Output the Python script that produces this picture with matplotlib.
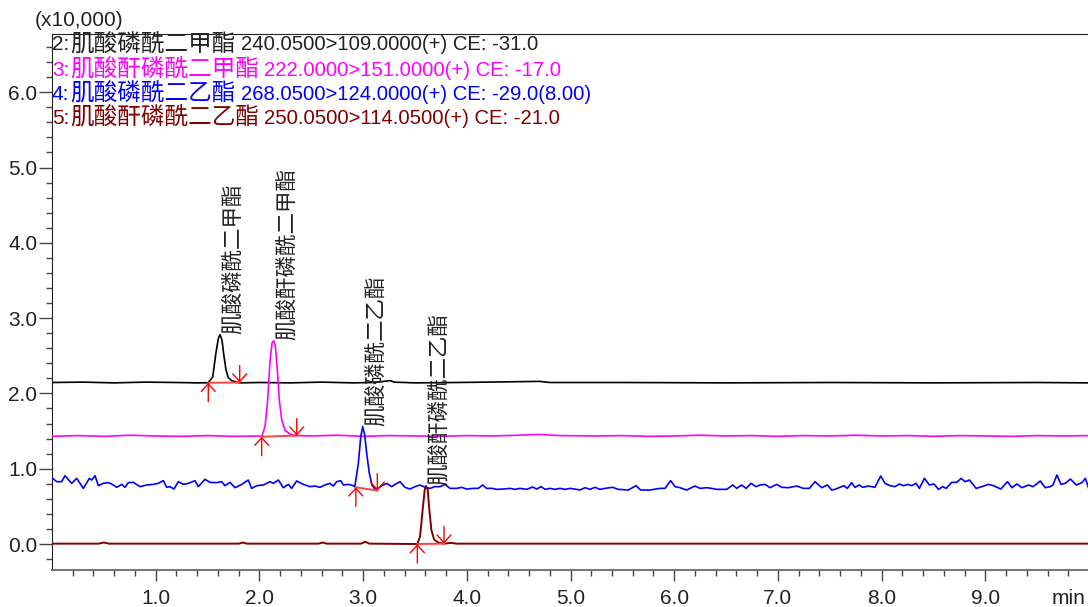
import matplotlib
matplotlib.use("Agg")
import numpy as np
import matplotlib.pyplot as plt
from matplotlib.ticker import FixedLocator, FormatStrFormatter

plt.rcParams['font.family'] = ['Liberation Sans', 'Noto Sans CJK SC']

# channel header lines
ch_ids = ["2:", "3:", "4:", "5:"]
ch_names = ["肌酸磷酰二甲酯", "肌酸酐磷酰二甲酯", "肌酸磷酰二乙酯", "肌酸酐磷酰二乙酯"]
ch_mrm = ["240.0500>109.0000(+) CE: -31.0",
          "222.0000>151.0000(+) CE: -17.0",
          "268.0500>124.0000(+) CE: -29.0(8.00)",
          "250.0500>114.0500(+) CE: -21.0"]
ch_colors = ["#000000", "#ff00ff", "#0000ff", "#800000"]
text_colors = ["#222222", "#ff00ff", "#0000ff", "#800000"]

# trace 2 (x10,000 counts vs min)
t2 = [0.0, 0.3, 0.6, 0.9, 1.2, 1.4, 1.507, 1.55, 1.58, 1.604, 1.62, 1.639, 1.659,
      1.678, 1.70, 1.733, 1.78, 1.81, 2.0, 2.3, 2.6, 2.9, 3.1, 3.2, 3.26, 3.3, 3.5,
      3.9, 4.2, 4.7, 4.8, 5.5, 6.5, 7.5, 8.5, 9.5, 10.0]
v2 = [2.145, 2.15, 2.14, 2.15, 2.145, 2.14, 2.142, 2.22, 2.53, 2.73, 2.78, 2.71, 2.49,
      2.31, 2.21, 2.17, 2.15, 2.14, 2.145, 2.14, 2.15, 2.14, 2.145, 2.16, 2.17, 2.15, 2.14,
      2.145, 2.15, 2.16, 2.145, 2.145, 2.14, 2.145, 2.14, 2.145, 2.14]

# trace 3
t3 = [0.0, 0.25, 0.5, 0.75, 1.0, 1.25, 1.5, 1.75, 2.0, 2.022, 2.054, 2.077, 2.103,
      2.122, 2.138, 2.153, 2.173, 2.192, 2.215, 2.247, 2.295, 2.36, 2.5, 2.75, 3.0,
      3.25, 3.5, 3.75, 4.0, 4.25, 4.5, 4.7, 4.9, 5.25, 5.5, 5.75, 6.0, 6.25, 6.5,
      6.75, 7.0, 7.25, 7.5, 7.75, 8.0, 8.25, 8.5, 8.75, 9.0, 9.25, 9.5, 9.75, 10.0]
v3 = [1.43, 1.44, 1.43, 1.445, 1.435, 1.43, 1.44, 1.43, 1.435, 1.425, 1.56, 1.87, 2.44,
      2.67, 2.70, 2.64, 2.31, 1.91, 1.65, 1.51, 1.46, 1.44, 1.435, 1.445, 1.43,
      1.44, 1.435, 1.43, 1.44, 1.435, 1.445, 1.455, 1.44, 1.435, 1.44, 1.43, 1.435, 1.445, 1.435,
      1.44, 1.43, 1.44, 1.435, 1.445, 1.435, 1.44, 1.43, 1.44, 1.435, 1.43, 1.44, 1.435, 1.44]

# trace 4 (noisy baseline)
t4 = [0.0, 0.045, 0.093, 0.125, 0.19, 0.238, 0.302, 0.36, 0.383, 0.415, 0.447, 0.495,
      0.543, 0.575, 0.624, 0.672, 0.704, 0.736, 0.784, 0.849, 0.913, 0.977, 1.025, 1.074,
      1.106, 1.138, 1.176, 1.218, 1.266, 1.315, 1.379, 1.411, 1.475, 1.524, 1.588, 1.636,
      1.668, 1.716, 1.765, 1.829, 1.893, 1.925, 1.974, 2.038, 2.102, 2.134, 2.183, 2.231,
      2.279, 2.311, 2.359, 2.424, 2.488, 2.536, 2.584, 2.632, 2.681, 2.713, 2.745, 2.784,
      2.81, 2.858, 2.906, 2.92, 2.954, 2.977, 2.996, 3.015, 3.035, 3.06, 3.086, 3.115,
      3.147, 3.18, 3.228, 3.276, 3.308, 3.356, 3.404, 3.452, 3.501, 3.549, 3.597, 3.645,
      3.693, 3.741, 3.79, 3.838, 3.902, 3.95, 3.998, 4.063, 4.111, 4.153, 4.191, 4.24,
      4.288, 4.352, 4.416, 4.465, 4.513, 4.577, 4.635, 4.674, 4.716, 4.754, 4.803, 4.851,
      4.899, 4.948, 4.996, 5.06, 5.09, 5.14, 5.188, 5.236, 5.284, 5.333, 5.406, 5.461,
      5.557, 5.632, 5.676, 5.766, 5.863, 5.911, 5.966, 6.008, 6.056, 6.12, 6.2, 6.249,
      6.313, 6.361, 6.41, 6.506, 6.564, 6.603, 6.651, 6.693, 6.741, 6.789, 6.828, 6.876,
      6.924, 6.989, 7.037, 7.101, 7.182, 7.246, 7.304, 7.358, 7.423, 7.477, 7.519, 7.55,
      7.598, 7.637, 7.669, 7.711, 7.743, 7.785, 7.817, 7.872, 7.936, 7.991, 8.033, 8.081,
      8.129, 8.171, 8.21, 8.258, 8.29, 8.332, 8.364, 8.413, 8.461, 8.506, 8.548, 8.59,
      8.622, 8.676, 8.725, 8.767, 8.805, 8.847, 8.912, 8.967, 9.031, 9.079, 9.15, 9.214,
      9.256, 9.305, 9.353, 9.417, 9.459, 9.491, 9.53, 9.578, 9.627, 9.652, 9.691, 9.73,
      9.771, 9.82, 9.878, 9.932, 9.965, 9.997]
v4 = [0.88, 0.828, 0.828, 0.907, 0.806, 0.872, 0.739, 0.872, 0.85, 0.907, 0.775, 0.806,
      0.815, 0.797, 0.753, 0.792, 0.753, 0.815, 0.819, 0.762, 0.784, 0.792, 0.806, 0.841,
      0.753, 0.762, 0.730, 0.828, 0.792, 0.806, 0.841, 0.762, 0.859, 0.819, 0.815, 0.828,
      0.775, 0.819, 0.748, 0.792, 0.850, 0.739, 0.775, 0.784, 0.828, 0.806, 0.850, 0.748,
      0.792, 0.739, 0.837, 0.792, 0.762, 0.770, 0.753, 0.784, 0.806, 0.770, 0.828, 0.841,
      0.784, 0.792, 0.775, 0.76, 1.07, 1.42, 1.56, 1.45, 1.20, 0.94, 0.78, 0.73,
      0.74, 0.775, 0.806, 0.762, 0.792, 0.828, 0.753, 0.730, 0.762, 0.784, 0.753, 0.739,
      0.762, 0.762, 0.792, 0.739, 0.739, 0.753, 0.730, 0.739, 0.739, 0.784, 0.739, 0.739,
      0.726, 0.730, 0.739, 0.726, 0.739, 0.726, 0.757, 0.730, 0.762, 0.726, 0.739, 0.726,
      0.739, 0.726, 0.739, 0.726, 0.717, 0.748, 0.726, 0.753, 0.726, 0.739, 0.753, 0.726,
      0.717, 0.775, 0.717, 0.717, 0.739, 0.739, 0.841, 0.762, 0.748, 0.717, 0.770, 0.739,
      0.748, 0.739, 0.726, 0.726, 0.784, 0.739, 0.784, 0.739, 0.806, 0.762, 0.784, 0.792,
      0.748, 0.792, 0.753, 0.748, 0.770, 0.739, 0.739, 0.828, 0.748, 0.784, 0.717, 0.726,
      0.753, 0.775, 0.739, 0.815, 0.753, 0.784, 0.753, 0.770, 0.753, 0.903, 0.806, 0.775,
      0.762, 0.797, 0.775, 0.792, 0.775, 0.806, 0.739, 0.872, 0.784, 0.797, 0.726, 0.762,
      0.739, 0.819, 0.819, 0.872, 0.828, 0.850, 0.739, 0.762, 0.792, 0.775, 0.730, 0.828,
      0.748, 0.797, 0.748, 0.784, 0.762, 0.792, 0.837, 0.748, 0.762, 0.784, 0.916, 0.792,
      0.806, 0.863, 0.784, 0.815, 0.872, 0.739]

# trace 5
t5 = [0.0, 0.45, 0.5, 0.55, 1.2, 1.8, 1.84, 1.88, 2.57, 2.61, 2.65, 2.98, 3.02, 3.06,
      3.523, 3.549, 3.574, 3.594, 3.607, 3.623, 3.639, 3.658, 3.684, 3.726, 3.78, 3.85,
      3.9, 10.0]
v5 = [0.005, 0.005, 0.02, 0.005, 0.005, 0.005, 0.02, 0.005, 0.005, 0.02, 0.005, 0.005, 0.03, 0.005,
      0.0, 0.10, 0.45, 0.72, 0.77, 0.72, 0.45, 0.19, 0.06, 0.02, 0.005, 0.015,
      0.005, 0.005]

# integration start / end points per peak
int_start = [(1.507, 2.142), (2.022, 1.425), (2.93, 0.753), (3.523, 0.0)]
int_end = [(1.81, 2.145), (2.36, 1.44), (3.137, 0.71), (3.78, 0.005)]

traces = [(t2, v2), (t3, v3), (t4, v4), (t5, v5)]

W, H = 1088, 607
fig = plt.figure(figsize=(W / 100, H / 100), dpi=100)
ax = fig.add_axes([52 / W, 37 / H, 1037 / W, 536 / H])

for (t, v), c in zip(traces, ch_colors):
    lw = 1.4 if c == "#800000" else 1.2
    ax.plot(t, v, color=c, lw=lw, zorder=3, solid_joinstyle="round")

# integration baselines and start/stop arrows
arrow = dict(arrowstyle="->,head_length=0.55,head_width=0.5", color="#ff0000",
             lw=1.0, shrinkA=0, shrinkB=0, mutation_scale=10)
for (ts, vs), (te, ve) in zip(int_start, int_end):
    ax.plot([ts, te], [vs, ve], color="#ff4040", lw=1.4, zorder=4)
    ax.annotate("", xy=(ts, vs), xytext=(0, -19), textcoords="offset pixels",
                arrowprops=arrow, zorder=5)
    ax.annotate("", xy=(te, ve), xytext=(0, 17), textcoords="offset pixels",
                arrowprops=arrow, zorder=5)

# compound names above each apex
for (t, v), name in zip(traces, ch_names):
    i = int(np.argmax(v))
    ax.annotate(name, xy=(t[i], v[i]), xytext=(13, 1), textcoords="offset pixels",
                rotation=90, ha="center", va="bottom", fontsize=15.5,
                family=["Noto Sans CJK SC"], color="#222222")

# header lines, written in three pieces
row_y = [45, 70, 94, 118]
for k in range(4):
    a = ax.annotate(ch_ids[k], xy=(52, H - row_y[k]), xycoords="figure pixels",
                    va="center", ha="left", fontsize=15, color=text_colors[k])
    b = ax.annotate(ch_names[k], xy=(1, 0.5), xycoords=a, xytext=(1, 0),
                    textcoords="offset pixels", va="center", ha="left",
                    fontsize=17, family=["Noto Sans CJK SC"], color=text_colors[k])
    ax.annotate(ch_mrm[k], xy=(1, 0.5), xycoords=b, xytext=(5, 0),
                textcoords="offset pixels", va="center", ha="left",
                fontsize=14.6, color=text_colors[k])

fig.text(35 / W, 1 - 20 / H, "(x10,000)", fontsize=15, va="center", ha="left",
         color="#222222")
fig.text(1052 / W, 1 - 598 / H, "min", fontsize=15, va="center", ha="left",
         color="#222222")

ax.set_xlim(0, 10.0)
ax.set_ylim(-0.345, 6.773)

ax.xaxis.set_major_locator(FixedLocator(np.arange(1, 10)))
ax.xaxis.set_minor_locator(FixedLocator([k * 0.2 for k in range(1, 50) if k % 5]))
ax.yaxis.set_major_locator(FixedLocator(np.arange(0, 7)))
ax.yaxis.set_minor_locator(FixedLocator([k * 0.2 for k in range(-1, 34) if k % 5]))
ax.xaxis.set_major_formatter(FormatStrFormatter("%.1f"))
ax.yaxis.set_major_formatter(FormatStrFormatter("%.1f"))

ax.tick_params(axis="x", which="major", direction="out", length=8, width=1,
               color="#444444", labelsize=15, pad=6, labelcolor="#222222")
ax.tick_params(axis="x", which="minor", direction="out", length=4, width=1,
               color="#444444")
ax.tick_params(axis="y", which="major", direction="out", length=9.5, width=1,
               color="#444444", labelsize=15, pad=1, labelcolor="#222222")
ax.tick_params(axis="y", which="minor", direction="out", length=4.5, width=1,
               color="#444444")

ax.spines["right"].set_visible(False)
ax.spines["bottom"].set_color("#777777")
ax.spines["bottom"].set_linewidth(1.5)
ax.spines["left"].set_color("#222222")
ax.spines["top"].set_color("#222222")

fig.savefig("out.png", dpi=100)
